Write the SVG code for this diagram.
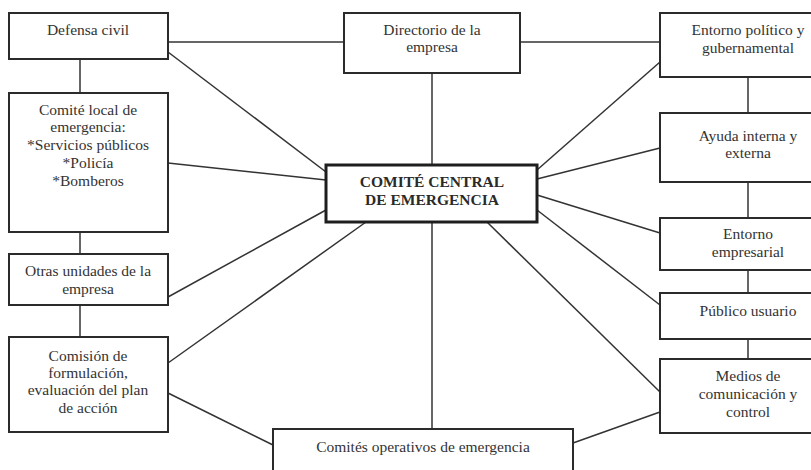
<svg xmlns="http://www.w3.org/2000/svg" width="811" height="470" viewBox="0 0 811 470">
<style>
  .box { fill: #ffffff; stroke: #2b2b2b; stroke-width: 2; }
  .main { fill: #ffffff; stroke: #1e1e1e; stroke-width: 3; }
  text { font-family: 'Liberation Serif', Tinos, 'DejaVu Serif', serif; font-size: 15.5px; fill: #333333; text-anchor: middle; }
  .mlbl { font-weight: bold; fill: #2a2a2a; }
  .conn line { stroke: #333333; stroke-width: 1.5; fill: none; }
</style>
<rect x="0" y="0" width="811" height="470" fill="#ffffff"/>
<g id="connectors" class="conn">
  <line x1="168" y1="42" x2="344" y2="42"/>
  <line x1="520" y1="42" x2="660" y2="42"/>
  <line x1="80" y1="59" x2="80" y2="93"/>
  <line x1="80" y1="232" x2="80" y2="254"/>
  <line x1="80" y1="305" x2="80" y2="337"/>
  <line x1="168" y1="52" x2="326" y2="172"/>
  <line x1="168" y1="163" x2="326" y2="180"/>
  <line x1="168" y1="297" x2="326" y2="210"/>
  <line x1="168" y1="363" x2="366" y2="222"/>
  <line x1="168" y1="393" x2="273" y2="445"/>
  <line x1="432" y1="73" x2="432" y2="165"/>
  <line x1="432" y1="222" x2="432" y2="429"/>
  <line x1="487" y1="222" x2="660" y2="392"/>
  <line x1="660" y1="412" x2="573" y2="443"/>
  <line x1="660" y1="62" x2="537" y2="170"/>
  <line x1="660" y1="148" x2="537" y2="179"/>
  <line x1="660" y1="233" x2="537" y2="195"/>
  <line x1="660" y1="305" x2="537" y2="210"/>
  <line x1="748" y1="77" x2="748" y2="113"/>
  <line x1="748" y1="182" x2="748" y2="218"/>
  <line x1="748" y1="270" x2="748" y2="293"/>
  <line x1="748" y1="339" x2="748" y2="359"/>
</g>
<g id="defensa-civil">
  <rect class="box" x="9" y="13" width="159" height="46"/>
  <text font-family="Liberation Serif, serif" x="88" y="35">Defensa civil</text>
</g>
<g id="comite-local">
  <rect class="box" x="9" y="93" width="159" height="139"/>
  <text x="88" y="115">Comité local de</text>
  <text x="88" y="132">emergencia:</text>
  <text x="88" y="150">*Servicios públicos</text>
  <text x="88" y="168">*Policía</text>
  <text x="88" y="186">*Bomberos</text>
</g>
<g id="otras-unidades">
  <rect class="box" x="9" y="254" width="159" height="51"/>
  <text x="88" y="276">Otras unidades de la</text>
  <text x="88" y="294">empresa</text>
</g>
<g id="comision">
  <rect class="box" x="9" y="337" width="159" height="95"/>
  <text x="88" y="361">Comisión de</text>
  <text x="88" y="378">formulación,</text>
  <text x="88" y="395">evaluación del plan</text>
  <text x="88" y="413">de acción</text>
</g>
<g id="directorio">
  <rect class="box" x="344" y="13" width="176" height="60"/>
  <text x="432" y="35">Directorio de la</text>
  <text x="432" y="52">empresa</text>
</g>
<g id="comite-central">
  <rect class="main" x="326" y="165" width="211" height="57"/>
  <text class="mlbl" x="432" y="187">COMITÉ CENTRAL</text>
  <text class="mlbl" x="432" y="205">DE EMERGENCIA</text>
</g>
<g id="comites-operativos">
  <rect class="box" x="273" y="429" width="300" height="60"/>
  <text x="423" y="452">Comités operativos de emergencia</text>
</g>
<g id="entorno-politico">
  <rect class="box" x="660" y="13" width="152" height="64"/>
  <text x="748" y="35">Entorno político y</text>
  <text x="748" y="53">gubernamental</text>
</g>
<g id="ayuda">
  <rect class="box" x="660" y="113" width="152" height="69"/>
  <text x="748" y="141">Ayuda interna y</text>
  <text x="748" y="158">externa</text>
</g>
<g id="entorno-empresarial">
  <rect class="box" x="660" y="218" width="152" height="52"/>
  <text x="748" y="239">Entorno</text>
  <text x="748" y="257">empresarial</text>
</g>
<g id="publico-usuario">
  <rect class="box" x="660" y="293" width="152" height="46"/>
  <text x="748" y="316">Público usuario</text>
</g>
<g id="medios">
  <rect class="box" x="660" y="359" width="152" height="74"/>
  <text x="748" y="381">Medios de</text>
  <text x="748" y="399">comunicación y</text>
  <text x="748" y="417">control</text>
</g>
</svg>
